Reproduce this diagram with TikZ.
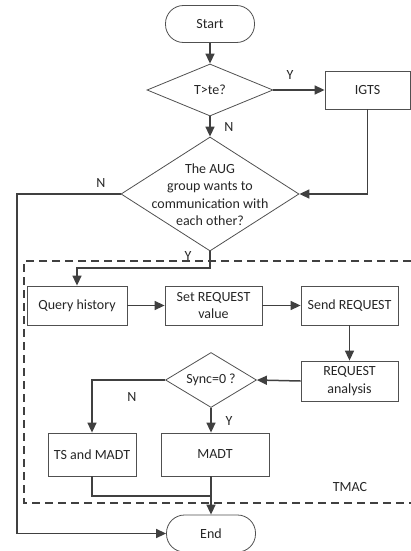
\documentclass[tikz,border=0pt]{standalone}
\usepackage{fontspec}
\setmainfont{Carlito}
\usetikzlibrary{arrows.meta,shapes.geometric}
\definecolor{lineclr}{HTML}{404040}
\definecolor{boxclr}{HTML}{505050}
\begin{document}
\begin{tikzpicture}[x=1pt,y=-1pt,
  font=\fontsize{14}{17.5}\selectfont,
  every node/.style={text=black!85},
  procbox/.style={draw=boxclr, line width=0.8pt, rectangle, inner sep=0pt, align=center},
  termbox/.style={draw=boxclr, line width=0.8pt, rectangle, rounded corners=18pt, minimum width=89pt, minimum height=37pt, inner sep=0pt},
  decbox/.style={draw=boxclr, line width=0.8pt, diamond, inner sep=0pt},
  flow/.style={draw=lineclr, line width=1.5pt, -{Triangle[length=10pt,width=9pt]}},
  plain/.style={draw=lineclr, line width=1.5pt},
  region/.style={draw=lineclr, line width=1.3pt, dash pattern=on 8pt off 5pt},
  tag/.style={inner sep=0pt}]
\useasboundingbox (0,0) rectangle (411,551);

% dashed TMAC region (open to the right)
\draw[region] (411,261) -- (24,261) -- (24,503) -- (411,503);
\node[tag] (tmac) at (350,487) {TMAC};

% nodes
\node[termbox] (start) at (210,24) {Start};
\node[decbox, minimum width=126pt, minimum height=52pt] (d1) at (210,90) {};
\node at (d1) {T>te?};
\node[procbox, minimum width=85pt, minimum height=38pt] (igts) at (367.5,90) {IGTS};
\node[decbox, minimum width=178pt, minimum height=114pt] (d2) at (210,194) {};
\node[align=center] at (210,194.5) {The AUG\\group wants to\\communication with\\each other?};

\node[procbox, minimum width=100pt, minimum height=39pt] (qh) at (77,305.5) {Query history};
\node[procbox, minimum width=97pt, minimum height=39pt] (setr) at (213.5,305.5) {Set REQUEST\\value};
\node[procbox, minimum width=97pt, minimum height=39pt] (send) at (349.5,305.5) {Send REQUEST};
\node[procbox, minimum width=97pt, minimum height=40pt] (ra) at (349.5,381) {REQUEST\\analysis};
\node[decbox, minimum width=91pt, minimum height=55pt] (d3) at (211,380) {};
\node at (d3) {Sync=0\hspace{3pt}?};
\node[procbox, minimum width=88pt, minimum height=43pt] (ts) at (92,454.5) {TS and MADT};
\node[procbox, minimum width=108pt, minimum height=43pt] (madt) at (215,454.5) {MADT};
\node[termbox] (end) at (211,533.5) {End};

% helper points
\coordinate (nleft) at (17,194);
\coordinate (yturn) at (210,268);
\coordinate (nsync) at (92,380);
\coordinate (merge) at (92,496);

% connectors
\draw[flow] (start.south) -- (d1.north);
\draw[flow] (d1.east) -- (igts.west);
\node[tag] (ly1) at (290,75) {Y};
\draw[flow] (d1.south) -- (d2.north);
\node[tag] (ln1) at (229,127) {N};
\draw[flow] (igts.south) |- (d2.east);
\draw[flow] (d2.west) -- (nleft) |- (end.west);
\node[tag] (ln2) at (101,183) {N};
\draw[flow] (d2.south) -- (yturn) -| (qh.north);
\node[tag] (ly2) at (188,256) {Y};
\draw[flow] (qh.east) -- (setr.west);
\draw[flow] (setr.east) -- (send.west);
\draw[flow] (send.south) -- (ra.north);
\draw[flow] (ra.west) -- (d3.east);
\draw[flow] (d3.west) -- (nsync) -- (ts.north);
\node[tag] (ln3) at (132,397) {N};
\draw[flow] (d3.south) -- (d3.south |- madt.north);
\node[tag] (ly3) at (229,421) {Y};
\draw[plain] (ts.south) -- (merge) -- (merge -| d3.south);
\draw[flow] (d3.south |- madt.south) -- (end.north);
\end{tikzpicture}
\end{document}
